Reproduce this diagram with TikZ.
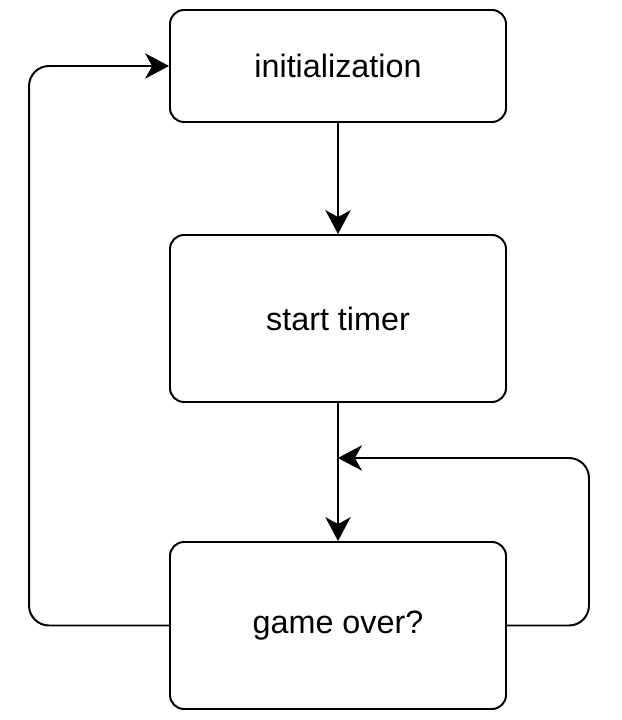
\documentclass[tikz,border=0pt]{standalone}
\usepackage{fontspec}
\setmainfont{Liberation Sans}
\usetikzlibrary{positioning}
\usetikzlibrary{arrows.meta}

\tikzset{
	block/.style={draw, line width=1.4pt, rounded corners=0.35cm,
		minimum width=8.4cm, align=center,
		font=\fontsize{23}{28}\selectfont},
	flow/.style={line width=1.4pt, rounded corners=0.5cm,
		-{Stealth[length=17pt,width=18pt,inset=5pt]}}
}

\begin{document}
\begin{tikzpicture}
	
	\useasboundingbox (0,0) rectangle (15.55,18);
	
	% the three steps, stacked on one column
	\node[block, minimum height=2.8cm]   (init)  at (8.45,16.35)  {initialization};
	\node[block, minimum height=4.175cm] (timer) at (8.45,10.0375) {start timer};
	\node[block, minimum height=4.175cm] (over)  at (8.45,2.3625)  {game over?};
	
	% where the loop back from the right meets the main line
	\coordinate (J) at (8.45,6.55);
	
	%%%%%%%%%%%%%%%%%%%%%%%%%%%%%%%%%%%%%%%%%%%%%%%%%%%%%%%%%%%%%%
	\draw[flow] (init) -- (timer);
	\draw[flow] (timer) -- (over);
	
	% loops
	\draw[flow] (over.east) -- ++(2.05,0) |- (J);
	\draw[flow] (over.west) -- ++(-3.5,0) |- (init.west);
	
\end{tikzpicture}
\end{document}
